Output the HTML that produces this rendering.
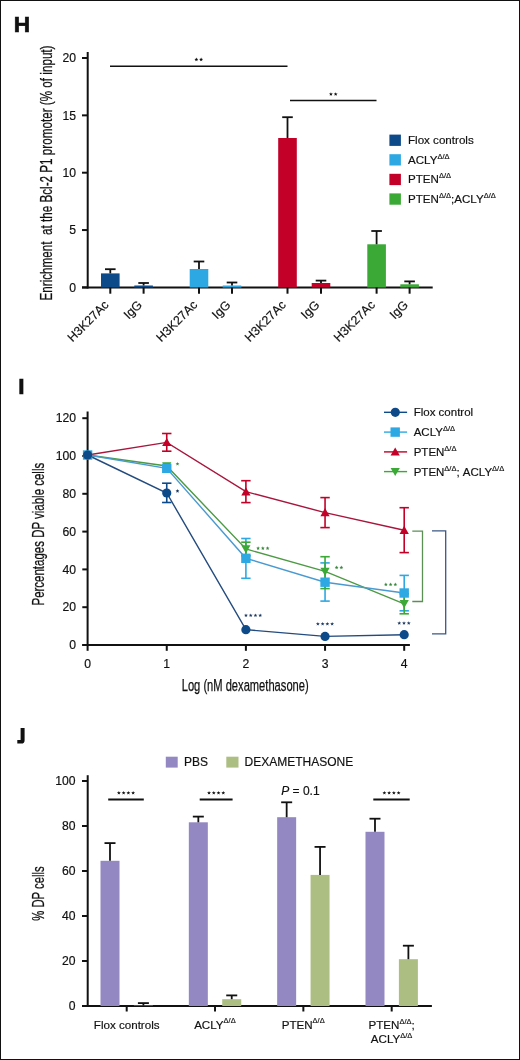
<!DOCTYPE html>
<html><head><meta charset="utf-8"><title>Figure</title>
<style>
html,body{margin:0;padding:0;background:#fff;}
body{width:520px;height:1060px;overflow:hidden;}
svg{display:block;font-family:"Liberation Sans", sans-serif;will-change:transform;}
text:not([stroke]){stroke:#111;stroke-width:0.18px;}
</style></head>
<body>
<svg width="520" height="1060" viewBox="0 0 520 1060">
<rect x="0" y="0" width="520" height="1060" fill="#fff"/>
<rect x="0.5" y="0.5" width="519" height="1059" fill="none" stroke="#111" stroke-width="1"/>
<text x="13.8" y="32.4" font-size="22.6" text-anchor="start" fill="#111" font-weight="bold" stroke="#111" stroke-width="0.7">H</text>
<text transform="translate(51.8,300.5) rotate(-90)" font-size="16" stroke="#111" stroke-width="0.25" textLength="255" lengthAdjust="spacingAndGlyphs" fill="#111" xml:space="preserve">Enrichment  at the Bcl-2 P1 promoter (% of input)</text>
<line x1="87.7" y1="52" x2="87.7" y2="288.5" stroke="#111" stroke-width="2"/>
<line x1="82" y1="287.5" x2="432.7" y2="287.5" stroke="#111" stroke-width="2"/>
<line x1="82" y1="287.4" x2="87.7" y2="287.4" stroke="#111" stroke-width="2"/>
<text x="76" y="291.6" font-size="12.2" text-anchor="end" fill="#111">0</text>
<line x1="82" y1="230.05" x2="87.7" y2="230.05" stroke="#111" stroke-width="2"/>
<text x="76" y="234.25" font-size="12.2" text-anchor="end" fill="#111">5</text>
<line x1="82" y1="172.7" x2="87.7" y2="172.7" stroke="#111" stroke-width="2"/>
<text x="76" y="176.9" font-size="12.2" text-anchor="end" fill="#111">10</text>
<line x1="82" y1="115.35" x2="87.7" y2="115.35" stroke="#111" stroke-width="2"/>
<text x="76" y="119.55" font-size="12.2" text-anchor="end" fill="#111">15</text>
<line x1="82" y1="58.0" x2="87.7" y2="58.0" stroke="#111" stroke-width="2"/>
<text x="76" y="62.2" font-size="12.2" text-anchor="end" fill="#111">20</text>
<rect x="101.0" y="273.4" width="18.6" height="14.1" fill="#0d4a8a"/>
<line x1="110.3" y1="273.4" x2="110.3" y2="269.2" stroke="#111" stroke-width="1.8"/>
<line x1="105.0" y1="269.2" x2="115.6" y2="269.2" stroke="#111" stroke-width="1.8"/>
<line x1="110.3" y1="287.5" x2="110.3" y2="293.7" stroke="#111" stroke-width="2"/>
<text transform="translate(109.5,305.6) rotate(-45)" font-size="12.4" text-anchor="end" fill="#111">H3K27Ac</text>
<rect x="134.3" y="285.5" width="18.6" height="2.0" fill="#0d4a8a"/>
<line x1="143.6" y1="285.5" x2="143.6" y2="283.0" stroke="#111" stroke-width="1.8"/>
<line x1="138.3" y1="283.0" x2="148.9" y2="283.0" stroke="#111" stroke-width="1.8"/>
<line x1="143.6" y1="287.5" x2="143.6" y2="293.7" stroke="#111" stroke-width="2"/>
<text transform="translate(142.79999999999998,305.6) rotate(-45)" font-size="12.4" text-anchor="end" fill="#111">IgG</text>
<rect x="189.7" y="269.0" width="18.6" height="18.5" fill="#2ea8e2"/>
<line x1="199.0" y1="269.0" x2="199.0" y2="261.5" stroke="#111" stroke-width="1.8"/>
<line x1="193.7" y1="261.5" x2="204.3" y2="261.5" stroke="#111" stroke-width="1.8"/>
<line x1="199.0" y1="287.5" x2="199.0" y2="293.7" stroke="#111" stroke-width="2"/>
<text transform="translate(198.2,305.6) rotate(-45)" font-size="12.4" text-anchor="end" fill="#111">H3K27Ac</text>
<rect x="222.7" y="285.5" width="18.6" height="2.0" fill="#2ea8e2"/>
<line x1="232.0" y1="285.5" x2="232.0" y2="282.5" stroke="#111" stroke-width="1.8"/>
<line x1="226.7" y1="282.5" x2="237.3" y2="282.5" stroke="#111" stroke-width="1.8"/>
<line x1="232.0" y1="287.5" x2="232.0" y2="293.7" stroke="#111" stroke-width="2"/>
<text transform="translate(231.2,305.6) rotate(-45)" font-size="12.4" text-anchor="end" fill="#111">IgG</text>
<rect x="278.2" y="138.0" width="18.6" height="149.5" fill="#c20028"/>
<line x1="287.5" y1="138.0" x2="287.5" y2="117.2" stroke="#111" stroke-width="1.8"/>
<line x1="282.2" y1="117.2" x2="292.8" y2="117.2" stroke="#111" stroke-width="1.8"/>
<line x1="287.5" y1="287.5" x2="287.5" y2="293.7" stroke="#111" stroke-width="2"/>
<text transform="translate(286.7,305.6) rotate(-45)" font-size="12.4" text-anchor="end" fill="#111">H3K27Ac</text>
<rect x="311.7" y="283.0" width="18.6" height="4.5" fill="#c20028"/>
<line x1="321.0" y1="283.0" x2="321.0" y2="280.6" stroke="#111" stroke-width="1.8"/>
<line x1="315.7" y1="280.6" x2="326.3" y2="280.6" stroke="#111" stroke-width="1.8"/>
<line x1="321.0" y1="287.5" x2="321.0" y2="293.7" stroke="#111" stroke-width="2"/>
<text transform="translate(320.2,305.6) rotate(-45)" font-size="12.4" text-anchor="end" fill="#111">IgG</text>
<rect x="367.3" y="244.3" width="18.6" height="43.2" fill="#3aa935"/>
<line x1="376.6" y1="244.3" x2="376.6" y2="231.0" stroke="#111" stroke-width="1.8"/>
<line x1="371.3" y1="231.0" x2="381.9" y2="231.0" stroke="#111" stroke-width="1.8"/>
<line x1="376.6" y1="287.5" x2="376.6" y2="293.7" stroke="#111" stroke-width="2"/>
<text transform="translate(375.8,305.6) rotate(-45)" font-size="12.4" text-anchor="end" fill="#111">H3K27Ac</text>
<rect x="400.3" y="284.3" width="18.6" height="3.2" fill="#3aa935"/>
<line x1="409.6" y1="284.3" x2="409.6" y2="281.4" stroke="#111" stroke-width="1.8"/>
<line x1="404.3" y1="281.4" x2="414.9" y2="281.4" stroke="#111" stroke-width="1.8"/>
<line x1="409.6" y1="287.5" x2="409.6" y2="293.7" stroke="#111" stroke-width="2"/>
<text transform="translate(408.8,305.6) rotate(-45)" font-size="12.4" text-anchor="end" fill="#111">IgG</text>
<line x1="110" y1="66.3" x2="287.5" y2="66.3" stroke="#111" stroke-width="1.6"/>
<polygon points="196.38,57.60 196.90,58.87 198.28,58.98 197.23,59.88 197.55,61.22 196.38,60.50 195.20,61.22 195.52,59.88 194.47,58.98 195.85,58.87" fill="#111"/>
<polygon points="201.12,57.60 201.65,58.87 203.03,58.98 201.98,59.88 202.30,61.22 201.12,60.50 199.95,61.22 200.27,59.88 199.22,58.98 200.60,58.87" fill="#111"/>
<line x1="290" y1="100.5" x2="376.5" y2="100.5" stroke="#111" stroke-width="1.6"/>
<polygon points="330.93,92.20 331.45,93.47 332.83,93.58 331.78,94.48 332.10,95.82 330.93,95.10 329.75,95.82 330.07,94.48 329.02,93.58 330.40,93.47" fill="#111"/>
<polygon points="335.68,92.20 336.20,93.47 337.58,93.58 336.53,94.48 336.85,95.82 335.68,95.10 334.50,95.82 334.82,94.48 333.77,93.58 335.15,93.47" fill="#111"/>
<rect x="389.4" y="134.6" width="11.5" height="11.3" fill="#0d4a8a"/>
<text x="408" y="144.1" font-size="11.6" text-anchor="start" fill="#111">Flox controls</text>
<rect x="389.4" y="154.2" width="11.5" height="11.3" fill="#2ea8e2"/>
<text x="408" y="163.7" font-size="11.6" fill="#111">ACLY<tspan font-size="7.5" dy="-5.1">Δ/Δ</tspan></text>
<rect x="389.4" y="173.8" width="11.5" height="11.3" fill="#c20028"/>
<text x="408" y="183.3" font-size="11.6" fill="#111">PTEN<tspan font-size="7.5" dy="-5.1">Δ/Δ</tspan></text>
<rect x="389.4" y="193.4" width="11.5" height="11.3" fill="#3aa935"/>
<text x="408" y="202.9" font-size="11.6" fill="#111">PTEN<tspan font-size="7.5" dy="-5.1">Δ/Δ</tspan><tspan dy="5.1">;ACLY</tspan><tspan font-size="7.5" dy="-5.1">Δ/Δ</tspan></text>
<text x="18.2" y="393.8" font-size="22.6" text-anchor="start" fill="#111" font-weight="bold" stroke="#111" stroke-width="0.7">I</text>
<text transform="translate(43.9,605.5) rotate(-90)" font-size="16" stroke="#111" stroke-width="0.25" textLength="142.7" lengthAdjust="spacingAndGlyphs" fill="#111">Percentages DP viable cells</text>
<line x1="87.6" y1="411.5" x2="87.6" y2="650.8" stroke="#111" stroke-width="2"/>
<line x1="82.3" y1="645" x2="409.9" y2="645" stroke="#111" stroke-width="2"/>
<line x1="82.3" y1="645.0" x2="87.6" y2="645.0" stroke="#111" stroke-width="2"/>
<text x="76" y="649.2" font-size="12.2" text-anchor="end" fill="#111">0</text>
<line x1="82.3" y1="607.2" x2="87.6" y2="607.2" stroke="#111" stroke-width="2"/>
<text x="76" y="611.4" font-size="12.2" text-anchor="end" fill="#111">20</text>
<line x1="82.3" y1="569.4" x2="87.6" y2="569.4" stroke="#111" stroke-width="2"/>
<text x="76" y="573.6" font-size="12.2" text-anchor="end" fill="#111">40</text>
<line x1="82.3" y1="531.6" x2="87.6" y2="531.6" stroke="#111" stroke-width="2"/>
<text x="76" y="535.8" font-size="12.2" text-anchor="end" fill="#111">60</text>
<line x1="82.3" y1="493.8" x2="87.6" y2="493.8" stroke="#111" stroke-width="2"/>
<text x="76" y="498.0" font-size="12.2" text-anchor="end" fill="#111">80</text>
<line x1="82.3" y1="456.0" x2="87.6" y2="456.0" stroke="#111" stroke-width="2"/>
<text x="76" y="460.2" font-size="12.2" text-anchor="end" fill="#111">100</text>
<line x1="82.3" y1="418.2" x2="87.6" y2="418.2" stroke="#111" stroke-width="2"/>
<text x="76" y="422.4" font-size="12.2" text-anchor="end" fill="#111">120</text>
<text x="87.6" y="667.8" font-size="12.2" text-anchor="middle" fill="#111">0</text>
<line x1="166.75" y1="645" x2="166.75" y2="650.8" stroke="#111" stroke-width="2"/>
<text x="166.75" y="667.8" font-size="12.2" text-anchor="middle" fill="#111">1</text>
<line x1="245.9" y1="645" x2="245.9" y2="650.8" stroke="#111" stroke-width="2"/>
<text x="245.9" y="667.8" font-size="12.2" text-anchor="middle" fill="#111">2</text>
<line x1="325.05" y1="645" x2="325.05" y2="650.8" stroke="#111" stroke-width="2"/>
<text x="325.05" y="667.8" font-size="12.2" text-anchor="middle" fill="#111">3</text>
<line x1="404.2" y1="645" x2="404.2" y2="650.8" stroke="#111" stroke-width="2"/>
<text x="404.2" y="667.8" font-size="12.2" text-anchor="middle" fill="#111">4</text>
<text x="181.7" y="691.0" font-size="16.3" stroke="#111" stroke-width="0.25" textLength="127" lengthAdjust="spacingAndGlyphs" fill="#111">Log (nM dexamethasone)</text>
<line x1="166.75" y1="433.5" x2="166.75" y2="451.2" stroke="#c20028" stroke-width="1.6"/>
<line x1="162.05" y1="433.5" x2="171.45" y2="433.5" stroke="#c20028" stroke-width="1.6"/>
<line x1="162.05" y1="451.2" x2="171.45" y2="451.2" stroke="#c20028" stroke-width="1.6"/>
<line x1="245.9" y1="480.7" x2="245.9" y2="502.6" stroke="#c20028" stroke-width="1.6"/>
<line x1="241.2" y1="480.7" x2="250.6" y2="480.7" stroke="#c20028" stroke-width="1.6"/>
<line x1="241.2" y1="502.6" x2="250.6" y2="502.6" stroke="#c20028" stroke-width="1.6"/>
<line x1="325.05" y1="497.6" x2="325.05" y2="527.6" stroke="#c20028" stroke-width="1.6"/>
<line x1="320.35" y1="497.6" x2="329.75" y2="497.6" stroke="#c20028" stroke-width="1.6"/>
<line x1="320.35" y1="527.6" x2="329.75" y2="527.6" stroke="#c20028" stroke-width="1.6"/>
<line x1="404.2" y1="507.7" x2="404.2" y2="552.6" stroke="#c20028" stroke-width="1.6"/>
<line x1="399.5" y1="507.7" x2="408.9" y2="507.7" stroke="#c20028" stroke-width="1.6"/>
<line x1="399.5" y1="552.6" x2="408.9" y2="552.6" stroke="#c20028" stroke-width="1.6"/>
<line x1="166.75" y1="483.2" x2="166.75" y2="502.5" stroke="#0d4a8a" stroke-width="1.6"/>
<line x1="162.05" y1="483.2" x2="171.45" y2="483.2" stroke="#0d4a8a" stroke-width="1.6"/>
<line x1="162.05" y1="502.5" x2="171.45" y2="502.5" stroke="#0d4a8a" stroke-width="1.6"/>
<line x1="245.9" y1="538.5" x2="245.9" y2="578.3" stroke="#2ea8e2" stroke-width="1.6"/>
<line x1="241.2" y1="538.5" x2="250.6" y2="538.5" stroke="#2ea8e2" stroke-width="1.6"/>
<line x1="241.2" y1="578.3" x2="250.6" y2="578.3" stroke="#2ea8e2" stroke-width="1.6"/>
<line x1="325.05" y1="562.9" x2="325.05" y2="601.1" stroke="#2ea8e2" stroke-width="1.6"/>
<line x1="320.35" y1="562.9" x2="329.75" y2="562.9" stroke="#2ea8e2" stroke-width="1.6"/>
<line x1="320.35" y1="601.1" x2="329.75" y2="601.1" stroke="#2ea8e2" stroke-width="1.6"/>
<line x1="404.2" y1="575.4" x2="404.2" y2="610.8" stroke="#2ea8e2" stroke-width="1.6"/>
<line x1="399.5" y1="575.4" x2="408.9" y2="575.4" stroke="#2ea8e2" stroke-width="1.6"/>
<line x1="399.5" y1="610.8" x2="408.9" y2="610.8" stroke="#2ea8e2" stroke-width="1.6"/>
<line x1="245.9" y1="542.2" x2="245.9" y2="555.8" stroke="#3aa935" stroke-width="1.6"/>
<line x1="241.2" y1="542.2" x2="250.6" y2="542.2" stroke="#3aa935" stroke-width="1.6"/>
<line x1="241.2" y1="555.8" x2="250.6" y2="555.8" stroke="#3aa935" stroke-width="1.6"/>
<line x1="325.05" y1="556.7" x2="325.05" y2="588.6" stroke="#3aa935" stroke-width="1.6"/>
<line x1="320.35" y1="556.7" x2="329.75" y2="556.7" stroke="#3aa935" stroke-width="1.6"/>
<line x1="320.35" y1="588.6" x2="329.75" y2="588.6" stroke="#3aa935" stroke-width="1.6"/>
<line x1="404.2" y1="593.8" x2="404.2" y2="613.8" stroke="#3aa935" stroke-width="1.6"/>
<line x1="399.5" y1="593.8" x2="408.9" y2="593.8" stroke="#3aa935" stroke-width="1.6"/>
<line x1="399.5" y1="613.8" x2="408.9" y2="613.8" stroke="#3aa935" stroke-width="1.6"/>
<polyline points="87.6,455 166.75,442.4 245.9,491.7 325.05,512.6 404.2,530.2" fill="none" stroke="#a8163c" stroke-width="1.4"/>
<polyline points="87.6,455 166.75,466.0 245.9,549 325.05,571.4 404.2,603.8" fill="none" stroke="#4c9a44" stroke-width="1.4"/>
<polyline points="87.6,455 166.75,468.3 245.9,558.3 325.05,582.2 404.2,593" fill="none" stroke="#4a9ad2" stroke-width="1.4"/>
<polyline points="87.6,455 166.75,493 245.9,629.7 325.05,636.4 404.2,634.7" fill="none" stroke="#234b7e" stroke-width="1.4"/>
<polygon points="83.00,458.69 92.20,458.69 87.60,450.49" fill="#c20028"/>
<polygon points="162.15,446.09 171.35,446.09 166.75,437.89" fill="#c20028"/>
<polygon points="241.30,495.39 250.50,495.39 245.90,487.19" fill="#c20028"/>
<polygon points="320.45,516.29 329.65,516.29 325.05,508.09" fill="#c20028"/>
<polygon points="399.60,533.89 408.80,533.89 404.20,525.69" fill="#c20028"/>
<polygon points="83.00,451.31 92.20,451.31 87.60,459.51" fill="#3aa935"/>
<polygon points="162.15,462.31 171.35,462.31 166.75,470.51" fill="#3aa935"/>
<polygon points="241.30,545.31 250.50,545.31 245.90,553.51" fill="#3aa935"/>
<polygon points="320.45,567.71 329.65,567.71 325.05,575.91" fill="#3aa935"/>
<polygon points="399.60,600.11 408.80,600.11 404.20,608.31" fill="#3aa935"/>
<rect x="82.9" y="450.3" width="9.4" height="9.4" fill="#2ea8e2"/>
<rect x="162.05" y="463.6" width="9.4" height="9.4" fill="#2ea8e2"/>
<rect x="241.2" y="553.6" width="9.4" height="9.4" fill="#2ea8e2"/>
<rect x="320.35" y="577.5" width="9.4" height="9.4" fill="#2ea8e2"/>
<rect x="399.5" y="588.3" width="9.4" height="9.4" fill="#2ea8e2"/>
<circle cx="87.6" cy="455" r="4.6" fill="#0d4a8a"/>
<circle cx="166.75" cy="493" r="4.6" fill="#0d4a8a"/>
<circle cx="245.9" cy="629.7" r="4.6" fill="#0d4a8a"/>
<circle cx="325.05" cy="636.4" r="4.6" fill="#0d4a8a"/>
<circle cx="404.2" cy="634.7" r="4.6" fill="#0d4a8a"/>
<polygon points="177.50,461.90 178.03,463.17 179.40,463.28 178.36,464.18 178.68,465.52 177.50,464.80 176.32,465.52 176.64,464.18 175.60,463.28 176.97,463.17" fill="#3a8a3e"/>
<polygon points="177.50,489.10 178.03,490.37 179.40,490.48 178.36,491.38 178.68,492.72 177.50,492.00 176.32,492.72 176.64,491.38 175.60,490.48 176.97,490.37" fill="#1c3a64"/>
<polygon points="258.10,546.30 258.63,547.57 260.00,547.68 258.96,548.58 259.28,549.92 258.10,549.20 256.92,549.92 257.24,548.58 256.20,547.68 257.57,547.57" fill="#3a8a3e"/>
<polygon points="262.85,546.30 263.38,547.57 264.75,547.68 263.71,548.58 264.03,549.92 262.85,549.20 261.67,549.92 261.99,548.58 260.95,547.68 262.32,547.57" fill="#3a8a3e"/>
<polygon points="267.60,546.30 268.13,547.57 269.50,547.68 268.46,548.58 268.78,549.92 267.60,549.20 266.42,549.92 266.74,548.58 265.70,547.68 267.07,547.57" fill="#3a8a3e"/>
<polygon points="245.97,613.40 246.50,614.67 247.88,614.78 246.83,615.68 247.15,617.02 245.97,616.30 244.80,617.02 245.12,615.68 244.07,614.78 245.45,614.67" fill="#1c3a64"/>
<polygon points="250.72,613.40 251.25,614.67 252.63,614.78 251.58,615.68 251.90,617.02 250.72,616.30 249.55,617.02 249.87,615.68 248.82,614.78 250.20,614.67" fill="#1c3a64"/>
<polygon points="255.47,613.40 256.00,614.67 257.38,614.78 256.33,615.68 256.65,617.02 255.47,616.30 254.30,617.02 254.62,615.68 253.57,614.78 254.95,614.67" fill="#1c3a64"/>
<polygon points="260.23,613.40 260.75,614.67 262.13,614.78 261.08,615.68 261.40,617.02 260.23,616.30 259.05,617.02 259.37,615.68 258.32,614.78 259.70,614.67" fill="#1c3a64"/>
<polygon points="336.62,565.60 337.15,566.87 338.53,566.98 337.48,567.88 337.80,569.22 336.62,568.50 335.45,569.22 335.77,567.88 334.72,566.98 336.10,566.87" fill="#3a8a3e"/>
<polygon points="341.38,565.60 341.90,566.87 343.28,566.98 342.23,567.88 342.55,569.22 341.38,568.50 340.20,569.22 340.52,567.88 339.47,566.98 340.85,566.87" fill="#3a8a3e"/>
<polygon points="317.88,621.90 318.40,623.17 319.78,623.28 318.73,624.18 319.05,625.52 317.88,624.80 316.70,625.52 317.02,624.18 315.97,623.28 317.35,623.17" fill="#1c3a64"/>
<polygon points="322.62,621.90 323.15,623.17 324.53,623.28 323.48,624.18 323.80,625.52 322.62,624.80 321.45,625.52 321.77,624.18 320.72,623.28 322.10,623.17" fill="#1c3a64"/>
<polygon points="327.38,621.90 327.90,623.17 329.28,623.28 328.23,624.18 328.55,625.52 327.38,624.80 326.20,625.52 326.52,624.18 325.47,623.28 326.85,623.17" fill="#1c3a64"/>
<polygon points="332.12,621.90 332.65,623.17 334.03,623.28 332.98,624.18 333.30,625.52 332.12,624.80 330.95,625.52 331.27,624.18 330.22,623.28 331.60,623.17" fill="#1c3a64"/>
<polygon points="385.85,582.50 386.38,583.77 387.75,583.88 386.71,584.78 387.03,586.12 385.85,585.40 384.67,586.12 384.99,584.78 383.95,583.88 385.32,583.77" fill="#3a8a3e"/>
<polygon points="390.60,582.50 391.13,583.77 392.50,583.88 391.46,584.78 391.78,586.12 390.60,585.40 389.42,586.12 389.74,584.78 388.70,583.88 390.07,583.77" fill="#3a8a3e"/>
<polygon points="395.35,582.50 395.88,583.77 397.25,583.88 396.21,584.78 396.53,586.12 395.35,585.40 394.17,586.12 394.49,584.78 393.45,583.88 394.82,583.77" fill="#3a8a3e"/>
<polygon points="399.25,621.20 399.78,622.47 401.15,622.58 400.11,623.48 400.43,624.82 399.25,624.10 398.07,624.82 398.39,623.48 397.35,622.58 398.72,622.47" fill="#1c3a64"/>
<polygon points="404.00,621.20 404.53,622.47 405.90,622.58 404.86,623.48 405.18,624.82 404.00,624.10 402.82,624.82 403.14,623.48 402.10,622.58 403.47,622.47" fill="#1c3a64"/>
<polygon points="408.75,621.20 409.28,622.47 410.65,622.58 409.61,623.48 409.93,624.82 408.75,624.10 407.57,624.82 407.89,623.48 406.85,622.58 408.22,622.47" fill="#1c3a64"/>
<polyline points="412.3,531.2 422.5,531.2 422.5,601.5 412.3,601.5" fill="none" stroke="#5b9055" stroke-width="1.3"/>
<polyline points="432,530.8 445.7,530.8 445.7,633.8 432,633.8" fill="none" stroke="#3a5886" stroke-width="1.3"/>
<line x1="384" y1="412.3" x2="407.1" y2="412.3" stroke="#0d4a8a" stroke-width="1.4"/>
<line x1="384" y1="432.1" x2="407.1" y2="432.1" stroke="#2ea8e2" stroke-width="1.4"/>
<line x1="384" y1="451.9" x2="407.1" y2="451.9" stroke="#c20028" stroke-width="1.4"/>
<line x1="384" y1="471.6" x2="407.1" y2="471.6" stroke="#3aa935" stroke-width="1.4"/>
<circle cx="395.3" cy="412.3" r="4.6" fill="#0d4a8a"/>
<rect x="390.5" y="427.4" width="9.4" height="9.4" fill="#2ea8e2"/>
<polygon points="390.60,455.59 399.80,455.59 395.20,447.39" fill="#c20028"/>
<polygon points="390.60,467.91 399.80,467.91 395.20,476.11" fill="#3aa935"/>
<text x="413.7" y="416.3" font-size="11.5" text-anchor="start" fill="#111">Flox control</text>
<text x="413.7" y="436.1" font-size="11.5" fill="#111">ACLY<tspan font-size="7.5" dy="-5.1">Δ/Δ</tspan></text>
<text x="413.7" y="455.9" font-size="11.5" fill="#111">PTEN<tspan font-size="7.5" dy="-5.1">Δ/Δ</tspan></text>
<text x="413.7" y="475.6" font-size="11.5" fill="#111" xml:space="preserve">PTEN<tspan font-size="7.5" dy="-5.1">Δ/Δ</tspan><tspan dy="5.1">; ACLY</tspan><tspan font-size="7.5" dy="-5.1">Δ/Δ</tspan></text>
<path d="M20.6 728.1 H24.6 V740.2 Q24.6 743.6 21.4 743.6 H17.3 V739.9 H20.6 Z" fill="#111"/>
<text transform="translate(43.9,920.8) rotate(-90)" font-size="16" stroke="#111" stroke-width="0.25" textLength="54.4" lengthAdjust="spacingAndGlyphs" fill="#111">% DP cells</text>
<line x1="87.7" y1="775.2" x2="87.7" y2="1007" stroke="#111" stroke-width="2"/>
<line x1="82" y1="1006" x2="431.9" y2="1006" stroke="#111" stroke-width="2"/>
<line x1="82" y1="1006.0" x2="87.7" y2="1006.0" stroke="#111" stroke-width="2"/>
<text x="75.6" y="1010.2" font-size="12.2" text-anchor="end" fill="#111">0</text>
<line x1="82" y1="961.0" x2="87.7" y2="961.0" stroke="#111" stroke-width="2"/>
<text x="75.6" y="965.2" font-size="12.2" text-anchor="end" fill="#111">20</text>
<line x1="82" y1="916.0" x2="87.7" y2="916.0" stroke="#111" stroke-width="2"/>
<text x="75.6" y="920.2" font-size="12.2" text-anchor="end" fill="#111">40</text>
<line x1="82" y1="871.0" x2="87.7" y2="871.0" stroke="#111" stroke-width="2"/>
<text x="75.6" y="875.2" font-size="12.2" text-anchor="end" fill="#111">60</text>
<line x1="82" y1="826.0" x2="87.7" y2="826.0" stroke="#111" stroke-width="2"/>
<text x="75.6" y="830.2" font-size="12.2" text-anchor="end" fill="#111">80</text>
<line x1="82" y1="781.0" x2="87.7" y2="781.0" stroke="#111" stroke-width="2"/>
<text x="75.6" y="785.2" font-size="12.2" text-anchor="end" fill="#111">100</text>
<line x1="126.7" y1="1006" x2="126.7" y2="1011.5" stroke="#111" stroke-width="2"/>
<line x1="215.03" y1="1006" x2="215.03" y2="1011.5" stroke="#111" stroke-width="2"/>
<line x1="303.36" y1="1006" x2="303.36" y2="1011.5" stroke="#111" stroke-width="2"/>
<line x1="391.69" y1="1006" x2="391.69" y2="1011.5" stroke="#111" stroke-width="2"/>
<rect x="100.5" y="860.8" width="19" height="145.2" fill="#9388c2"/>
<rect x="133.9" y="1005.6" width="19" height="0.4" fill="#adbe83"/>
<line x1="110.0" y1="860.8" x2="110.0" y2="843.1" stroke="#111" stroke-width="1.8"/>
<line x1="104.5" y1="843.1" x2="115.5" y2="843.1" stroke="#111" stroke-width="1.8"/>
<line x1="143.4" y1="1005.6" x2="143.4" y2="1003.1" stroke="#111" stroke-width="1.8"/>
<line x1="137.9" y1="1003.1" x2="148.9" y2="1003.1" stroke="#111" stroke-width="1.8"/>
<rect x="188.83" y="822.3" width="19" height="183.7" fill="#9388c2"/>
<rect x="222.23" y="999.2" width="19" height="6.8" fill="#adbe83"/>
<line x1="198.33" y1="822.3" x2="198.33" y2="816.6" stroke="#111" stroke-width="1.8"/>
<line x1="192.83" y1="816.6" x2="203.83" y2="816.6" stroke="#111" stroke-width="1.8"/>
<line x1="231.73" y1="999.2" x2="231.73" y2="995.4" stroke="#111" stroke-width="1.8"/>
<line x1="226.23" y1="995.4" x2="237.23" y2="995.4" stroke="#111" stroke-width="1.8"/>
<rect x="277.16" y="817.2" width="19" height="188.8" fill="#9388c2"/>
<rect x="310.56" y="874.9" width="19" height="131.1" fill="#adbe83"/>
<line x1="286.66" y1="817.2" x2="286.66" y2="802.3" stroke="#111" stroke-width="1.8"/>
<line x1="281.16" y1="802.3" x2="292.16" y2="802.3" stroke="#111" stroke-width="1.8"/>
<line x1="320.06" y1="874.9" x2="320.06" y2="846.9" stroke="#111" stroke-width="1.8"/>
<line x1="314.56" y1="846.9" x2="325.56" y2="846.9" stroke="#111" stroke-width="1.8"/>
<rect x="365.49" y="831.8" width="19" height="174.2" fill="#9388c2"/>
<rect x="398.89" y="959.2" width="19" height="46.8" fill="#adbe83"/>
<line x1="374.99" y1="831.8" x2="374.99" y2="818.7" stroke="#111" stroke-width="1.8"/>
<line x1="369.49" y1="818.7" x2="380.49" y2="818.7" stroke="#111" stroke-width="1.8"/>
<line x1="408.39" y1="959.2" x2="408.39" y2="945.7" stroke="#111" stroke-width="1.8"/>
<line x1="402.89" y1="945.7" x2="413.89" y2="945.7" stroke="#111" stroke-width="1.8"/>
<line x1="108.2" y1="799.5" x2="143.8" y2="799.5" stroke="#111" stroke-width="1.8"/>
<polygon points="118.88,790.90 119.40,792.17 120.78,792.28 119.73,793.18 120.05,794.52 118.88,793.80 117.70,794.52 118.02,793.18 116.97,792.28 118.35,792.17" fill="#111"/>
<polygon points="123.62,790.90 124.15,792.17 125.53,792.28 124.48,793.18 124.80,794.52 123.62,793.80 122.45,794.52 122.77,793.18 121.72,792.28 123.10,792.17" fill="#111"/>
<polygon points="128.38,790.90 128.90,792.17 130.28,792.28 129.23,793.18 129.55,794.52 128.38,793.80 127.20,794.52 127.52,793.18 126.47,792.28 127.85,792.17" fill="#111"/>
<polygon points="133.12,790.90 133.65,792.17 135.03,792.28 133.98,793.18 134.30,794.52 133.12,793.80 131.95,794.52 132.27,793.18 131.22,792.28 132.60,792.17" fill="#111"/>
<line x1="199.7" y1="799.5" x2="232.6" y2="799.5" stroke="#111" stroke-width="1.8"/>
<polygon points="209.03,790.90 209.55,792.17 210.93,792.28 209.88,793.18 210.20,794.52 209.03,793.80 207.85,794.52 208.17,793.18 207.12,792.28 208.50,792.17" fill="#111"/>
<polygon points="213.78,790.90 214.30,792.17 215.68,792.28 214.63,793.18 214.95,794.52 213.78,793.80 212.60,794.52 212.92,793.18 211.87,792.28 213.25,792.17" fill="#111"/>
<polygon points="218.53,790.90 219.05,792.17 220.43,792.28 219.38,793.18 219.70,794.52 218.53,793.80 217.35,794.52 217.67,793.18 216.62,792.28 218.00,792.17" fill="#111"/>
<polygon points="223.28,790.90 223.80,792.17 225.18,792.28 224.13,793.18 224.45,794.52 223.28,793.80 222.10,794.52 222.42,793.18 221.37,792.28 222.75,792.17" fill="#111"/>
<line x1="373.3" y1="799.5" x2="409.7" y2="799.5" stroke="#111" stroke-width="1.8"/>
<polygon points="384.38,790.90 384.90,792.17 386.28,792.28 385.23,793.18 385.55,794.52 384.38,793.80 383.20,794.52 383.52,793.18 382.47,792.28 383.85,792.17" fill="#111"/>
<polygon points="389.12,790.90 389.65,792.17 391.03,792.28 389.98,793.18 390.30,794.52 389.12,793.80 387.95,794.52 388.27,793.18 387.22,792.28 388.60,792.17" fill="#111"/>
<polygon points="393.88,790.90 394.40,792.17 395.78,792.28 394.73,793.18 395.05,794.52 393.88,793.80 392.70,794.52 393.02,793.18 391.97,792.28 393.35,792.17" fill="#111"/>
<polygon points="398.62,790.90 399.15,792.17 400.53,792.28 399.48,793.18 399.80,794.52 398.62,793.80 397.45,794.52 397.77,793.18 396.72,792.28 398.10,792.17" fill="#111"/>
<text x="281.2" y="794.9" font-size="12" fill="#111"><tspan font-style="italic">P</tspan> = 0.1</text>
<rect x="165.8" y="756.7" width="11.9" height="10.9" fill="#9388c2"/>
<text x="184" y="766.3" font-size="12" text-anchor="start" fill="#111">PBS</text>
<rect x="226.3" y="756.7" width="12.2" height="10.9" fill="#adbe83"/>
<text x="244.5" y="766.3" font-size="12" text-anchor="start" fill="#111">DEXAMETHASONE</text>
<text x="126.7" y="1028.5" font-size="11.6" text-anchor="middle" fill="#111">Flox controls</text>
<text x="214.9" y="1028.5" font-size="11.6" text-anchor="middle" fill="#111">ACLY<tspan font-size="7.5" dy="-5.1">Δ/Δ</tspan></text>
<text x="303.2" y="1028.5" font-size="11.6" text-anchor="middle" fill="#111">PTEN<tspan font-size="7.5" dy="-5.1">Δ/Δ</tspan></text>
<text x="391.6" y="1028.9" font-size="11.6" text-anchor="middle" fill="#111">PTEN<tspan font-size="7.5" dy="-5.1">Δ/Δ</tspan><tspan dy="5.1">;</tspan></text>
<text x="391.6" y="1043.4" font-size="11.6" text-anchor="middle" fill="#111">ACLY<tspan font-size="7.5" dy="-5.1">Δ/Δ</tspan></text>
</svg>
</body></html>
